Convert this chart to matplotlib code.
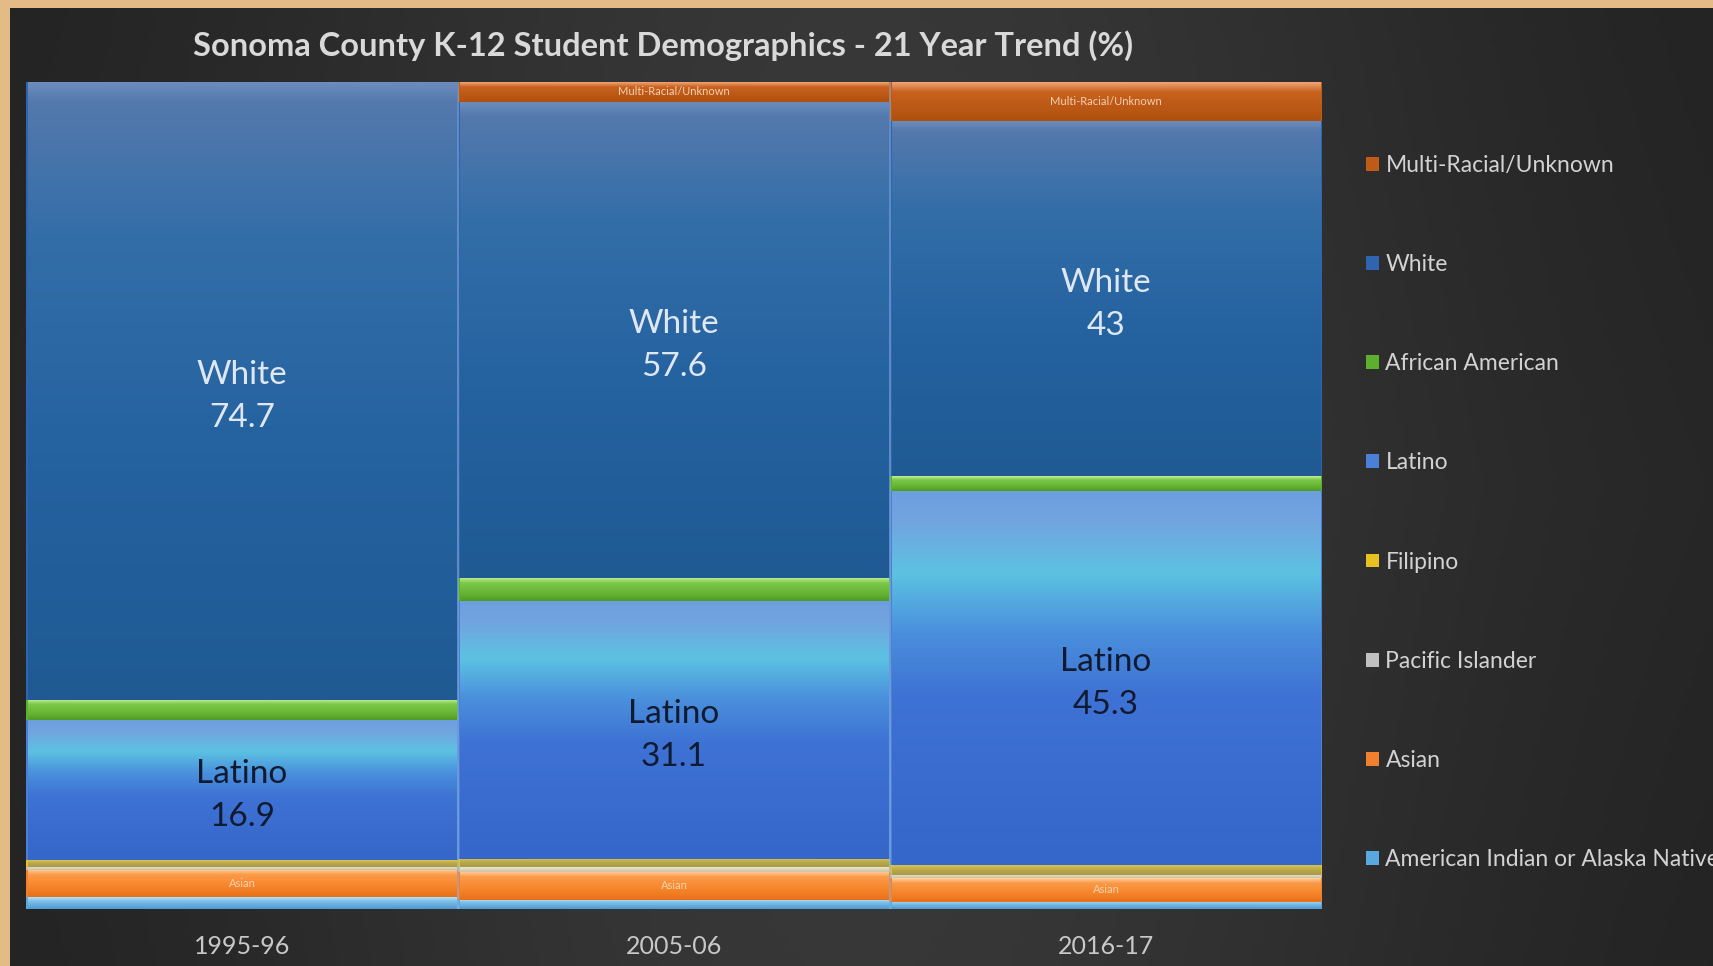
import numpy as np
import matplotlib.pyplot as plt
from matplotlib.colors import LinearSegmentedColormap
from matplotlib.patches import Patch

plt.rcParams['font.family'] = ['Lato', 'DejaVu Sans']

years = ['1995-96', '2005-06', '2016-17']
groups = ['American Indian or Alaska Native', 'Asian', 'Pacific Islander', 'Filipino',
          'Latino', 'African American', 'White', 'Multi-Racial/Unknown']

am_indian = [1.4, 1.1, 0.9]
asian = [3.3, 3.4, 2.8]
pacific = [0.4, 0.6, 0.4]
filipino = [0.8, 1.0, 1.2]
latino = [16.9, 31.1, 45.3]
african_am = [2.5, 2.8, 1.7]
white = [74.7, 57.6, 43.0]
multi = [0.0, 2.4, 4.7]

series = [am_indian, asian, pacific, filipino, latino, african_am, white, multi]

# gradient stops, top of segment -> bottom of segment
grads = [
    [(0, '#b8e2f6'), (0.35, '#7cc0ea'), (1, '#4f98cf')],
    [(0, '#ffd3a4'), (0.2, '#fb9a48'), (0.6, '#f7862c'), (1, '#e8701a')],
    [(0, '#ede6cc'), (1, '#c9c2a4')],
    [(0, '#d6c25a'), (0.5, '#b8a846'), (1, '#a89a50')],
    [(0, '#6d9fe0'), (0.08, '#72a4df'), (0.22, '#5cc2e2'), (0.38, '#4a8fdc'),
     (0.55, '#3e72d4'), (1, '#3566c9')],
    [(0, '#c8f09a'), (0.25, '#7cc84a'), (0.7, '#66b332'), (1, '#4f9a24')],
    [(0, '#6c8cbc'), (0.03, '#5479ad'), (0.25, '#336ea8'), (0.6, '#2462a0'),
     (1, '#1f5a93')],
    [(0, '#f2a57a'), (0.25, '#c8621e'), (1, '#b0500e')],
]
legend_colors = ['#5aa8e0', '#f08030', '#c0c0c0', '#e8c020',
                 '#4a80d8', '#5cb030', '#2e64b0', '#c05a18']

fig = plt.figure(figsize=(17.13, 9.66), dpi=100, facecolor='#e2bb87')

# dark backdrop panel
bg = fig.add_axes([10 / 1713, 0, 1 - 10 / 1713, 958 / 966])
gx = np.linspace(0, 1, 400)
gy = np.linspace(0, 1, 200)
GX, GY = np.meshgrid(gx, gy)
shade = np.exp(-((GX - 0.5) / 0.38) ** 2) * 0.8 + 0.2 * (1 - np.abs(GY - 0.5))
bg_cmap = LinearSegmentedColormap.from_list('bg', ['#1d1d1d', '#3a3a3a'])
bg.imshow(shade, cmap=bg_cmap, aspect='auto', extent=[0, 1, 0, 1], vmin=0, vmax=1)
bg.set_axis_off()

ax = fig.add_axes([26 / 1713, 1 - 909 / 966, (1322 - 26) / 1713, (909 - 82) / 966])
ax.set_facecolor('none')

x = np.arange(len(years))
bottom = np.zeros(len(years))
for vals, stops, col, name in zip(series, grads, legend_colors, groups):
    bars = ax.bar(x, vals, width=1.0, bottom=bottom, color=col,
                  edgecolor='none', label=name, zorder=1)
    cm = LinearSegmentedColormap.from_list(name, stops)
    for b in bars:
        if b.get_height() <= 0:
            continue
        x0, y0 = b.get_x(), b.get_y()
        x1, y1 = x0 + b.get_width(), y0 + b.get_height()
        ax.imshow(np.linspace(0, 1, 256)[:, None], cmap=cm, aspect='auto',
                  extent=[x0 + 0.004, x1 - 0.004, y0, y1], origin='upper', zorder=2)
    bottom += np.array(vals)

# column separators
for xs in [0.5, 1.5]:
    ax.axvline(xs, color='#8fb2dc', lw=1.2, alpha=0.6, zorder=3)

# data labels
lat_bot = np.array(am_indian) + np.array(asian) + np.array(pacific) + np.array(filipino)
wh_bot = lat_bot + np.array(latino) + np.array(african_am)
for i in range(len(years)):
    ax.annotate('White\n%g' % white[i], (x[i], wh_bot[i] + white[i] / 2),
                xytext=(0, -4), textcoords='offset points', ha='center', va='center',
                fontsize=24, color='#dfe7f2', linespacing=1.55, zorder=4)
    ax.annotate('Latino\n%g' % latino[i], (x[i], lat_bot[i] + latino[i] / 2),
                xytext=(0, -4), textcoords='offset points', ha='center', va='center',
                fontsize=24, color='#101a30', linespacing=1.55, zorder=4)
    ax.text(x[i], am_indian[i] + asian[i] / 2, 'Asian', ha='center', va='center',
            fontsize=8, color='#fbd2b0', zorder=4)
    if multi[i] > 1:
        ax.text(x[i], 100 - multi[i] / 2, 'Multi-Racial/Unknown', ha='center',
                va='center', fontsize=8, color='#f5cfb3', zorder=4)

ax.set_xlim(-0.5, 2.5)
ax.set_ylim(0, 100)
ax.set_xticks(x)
ax.set_xticklabels(years, fontsize=18, color='#c8c8c8')
ax.tick_params(axis='x', length=0, pad=19)
ax.set_yticks([])
for s in ax.spines.values():
    s.set_visible(False)

fig.text(663 / 1713, 1 - 46 / 966, 'Sonoma County K-12 Student Demographics - 21 Year Trend (%)',
         ha='center', va='center', fontsize=23.5, fontweight='bold', color='#d9d9d9')

handles = [Patch(facecolor=c, edgecolor='none') for c in legend_colors]
fig.legend(handles[::-1], groups[::-1], loc='upper left',
           bbox_to_anchor=(1366 / 1713, 1 - 155 / 966), frameon=False,
           fontsize=16.5, labelcolor='#d2d2d2', handlelength=0.55, handleheight=0.55,
           handletextpad=0.3, labelspacing=3.41, borderpad=0, borderaxespad=0)

fig.savefig('out.png', dpi=100, facecolor=fig.get_facecolor())
